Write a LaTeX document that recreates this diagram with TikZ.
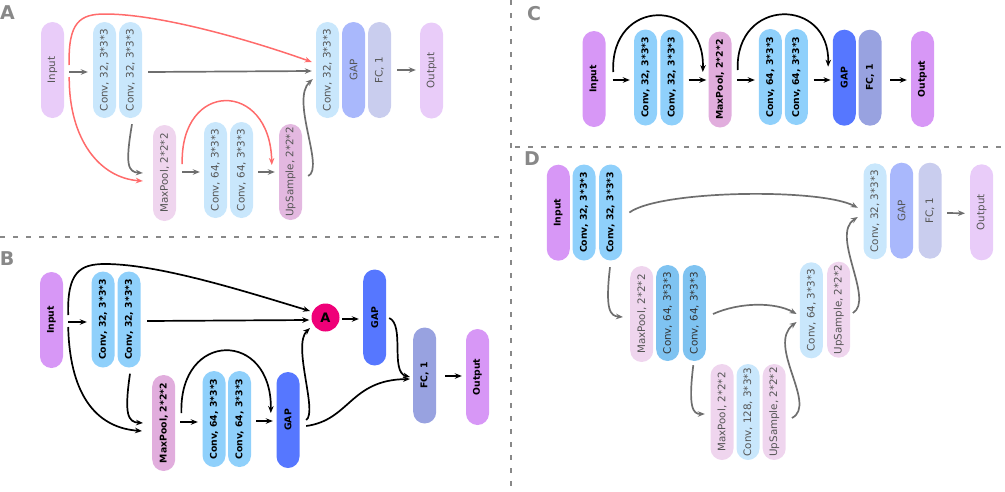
\documentclass[tikz,border=0pt]{standalone}
\usepackage{fontspec}
\setmainfont{DejaVu Sans}
\usetikzlibrary{arrows.meta,calc}
\definecolor{inV}{HTML}{D797F6}
\definecolor{inF}{HTML}{E9CCF9}
\definecolor{cvV}{HTML}{8FD0FB}
\definecolor{cvM}{HTML}{7FC3F1}
\definecolor{cvF}{HTML}{C9E7FC}
\definecolor{mpV}{HTML}{E1ADDD}
\definecolor{mpF}{HTML}{EFD5EE}
\definecolor{upAcol}{HTML}{E3B8E0}
\definecolor{gpV}{HTML}{5677FF}
\definecolor{gpF}{HTML}{A9B8FC}
\definecolor{fcV}{HTML}{98A2E0}
\definecolor{fcF}{HTML}{C9CDEE}
\definecolor{aCol}{HTML}{EF0078}
\definecolor{lnG}{HTML}{6E6E6E}
\definecolor{lnR}{HTML}{FF6B6B}
\definecolor{dv}{HTML}{888888}
\definecolor{tG}{HTML}{555555}
\definecolor{tD}{HTML}{333333}
\newcommand{\vtxt}[1]{\rotatebox{90}{#1}}
\begin{document}
\begin{tikzpicture}[x=1pt,y=-1pt,
  blk/.style={rectangle, rounded corners=11.5pt, minimum width=23pt, minimum height=96pt, inner sep=0pt},
  bt/.style={font=\fontsize{9.3}{11}\selectfont\bfseries, text=black},
  nt/.style={font=\fontsize{10.3}{12}\selectfont, text=tG},
  dt/.style={font=\fontsize{10.3}{12}\selectfont, text=tD},
  arr/.style={-{Stealth[length=7pt,width=5.5pt]}, line width=1.7pt},
  kar/.style={arr, draw=black},
  gar/.style={arr, draw=lnG},
  rar/.style={arr, draw=lnR, line width=1.5pt},
  sep/.style={draw=dv, line width=2pt, dash pattern=on 5pt off 8pt},
  lab/.style={font=\fontsize{19}{19}\selectfont\bfseries, text=dv, inner sep=0pt}
]
\useasboundingbox (0,0) rectangle (1005,491);

% separators
\draw[sep] (511,0) -- (511,491);
\draw[sep] (0,237) -- (505,237);
\draw[sep] (515,146.5) -- (1005,146.5);

% labels
\node[lab] (labA) at (7.5,13) {A};
\node[lab] (labB) at (7,258.5) {B};
\node[lab] (labC) at (534,14) {C};
\node[lab] (labD) at (532,158.5) {D};

% ---------------- Panel A ----------------
\node[blk,fill=inF,nt] (inA) at (52.5,70) {\vtxt{Input}};
\node[blk,fill=cvF,nt] (c1A) at (104.5,70) {\vtxt{Conv, 32, 3*3*3}};
\node[blk,fill=cvF,nt] (c2A) at (130.5,70) {\vtxt{Conv, 32, 3*3*3}};
\node[blk,fill=mpF,nt] (mpA) at (164.5,173) {\vtxt{MaxPool, 2*2*2}};
\node[blk,fill=cvF,nt] (c3A) at (215.5,170) {\vtxt{Conv, 64, 3*3*3}};
\node[blk,fill=cvF,nt] (c4A) at (241.5,170) {\vtxt{Conv, 64, 3*3*3}};
\node[blk,fill=upAcol,nt] (upA) at (290.5,172) {\vtxt{UpSample, 2*2*2}};
\node[blk,fill=cvF,nt] (c5A) at (327.5,70) {\vtxt{Conv, 32, 3*3*3}};
\node[blk,fill=gpF,nt] (gapA) at (353.5,70) {\vtxt{GAP}};
\node[blk,fill=fcF,nt] (fcA) at (379.5,70) {\vtxt{FC, 1}};
\node[blk,fill=inF,nt] (outA) at (431.5,70.5) {\vtxt{Output}};

\draw[gar] ($(inA.east)+(5,2)$) -- ($(c1A.west)+(-5,2)$);
\draw[gar] ($(c2A.east)+(6,2)$) -- ($(c5A.west)+(-4,1)$);
\draw[rar] ($(inA.east)+(5,-5)$) .. controls (68,22) and (80,14) .. (105,14)
   .. controls (160,14) and (250,40) .. ($(c5A.west)+(-4,-8)$);
\draw[rar] ($(inA.east)+(5,7)$) .. controls (69,140) and (100,178) .. ($(mpA.west)+(-10,8)$);
\draw[gar] ($(c2A.south)+(1.5,6)$) .. controls (125,165) and (128,172) .. ($(mpA.west)+(-10,0)$);
\draw[gar] ($(mpA.east)+(6,-1)$) -- ($(c3A.west)+(-4,2)$);
\draw[rar] ($(mpA.east)+(6,-9)$) .. controls (180,80) and (270,80) .. ($(upA.west)+(-7,-7)$);
\draw[gar] ($(c4A.east)+(5,2)$) -- ($(upA.west)+(-4,0)$);
\draw[gar] ($(upA.east)+(6,4)$) .. controls (325,168) and (290,100) .. ($(c5A.west)+(-3,9)$);
\draw[gar] ($(fcA.east)+(6,0)$) -- ($(outA.west)+(-4,-0.5)$);

% ---------------- Panel B ----------------
\node[blk,fill=inV,bt] (inB) at (51.5,320) {\vtxt{Input}};
\node[blk,fill=cvV,bt] (c1B) at (103,319.5) {\vtxt{Conv, 32, 3*3*3}};
\node[blk,fill=cvV,bt] (c2B) at (129,319.5) {\vtxt{Conv, 32, 3*3*3}};
\node[blk,fill=mpV,bt] (mpB) at (163.7,423) {\vtxt{MaxPool, 2*2*2}};
\node[blk,fill=cvV,bt] (c3B) at (214,419) {\vtxt{Conv, 64, 3*3*3}};
\node[blk,fill=cvV,bt] (c4B) at (239.5,419) {\vtxt{Conv, 64, 3*3*3}};
\node[blk,fill=gpV,bt] (gap1B) at (288,420) {\vtxt{GAP}};
\node[circle,fill=aCol,minimum size=28pt,inner sep=0pt,font=\fontsize{13}{14}\selectfont\bfseries] (aB) at (325.5,317.5) {A};
\node[blk,fill=gpV,bt] (gap2B) at (374.7,317.5) {\vtxt{GAP}};
\node[blk,fill=fcV,bt] (fcB) at (424.7,375.5) {\vtxt{FC, 1}};
\node[blk,fill=inV,bt] (outB) at (477.5,377) {\vtxt{Output}};

\draw[kar] ($(inB.east)+(5,2)$) -- ($(c1B.west)+(-4.5,2.5)$);
\draw[kar] ($(c2B.east)+(6.5,1.5)$) -- ($(aB.west)+(-2,2.5)$);
\draw[kar] ($(inB.east)+(5,-5)$) .. controls (67,272) and (80,264) .. (105,264)
   .. controls (160,264) and (250,293) .. ($(aB.center)+(-15.5,-6.5)$);
\draw[kar] ($(inB.east)+(5,7)$) .. controls (70,400) and (100,428) .. ($(mpB.west)+(-10,8)$);
\draw[kar] ($(c2B.south)+(1,6)$) .. controls (124,415) and (128,422) .. ($(mpB.west)+(-9,0)$);
\draw[kar] ($(mpB.east)+(5,-1)$) -- ($(c3B.west)+(-4.5,3)$);
\draw[kar] ($(mpB.east)+(6,-10)$) .. controls (179,330) and (272,330) .. ($(gap1B.west)+(-5.5,-7)$);
\draw[kar] ($(c4B.east)+(5,2)$) -- ($(gap1B.west)+(-3.5,1)$);
\draw[kar] ($(gap1B.east)+(6.5,0)$) .. controls (318,412) and (292,345) .. ($(aB.center)+(-15.5,10.5)$);
\draw[kar] ($(gap1B.east)+(6.5,6)$) .. controls (350,420) and (350,380) .. ($(fcB.west)+(-3,3.5)$);
\draw[kar] ($(aB.east)+(2.5,1.5)$) -- ($(gap2B.west)+(-4.2,1.5)$);
\draw[kar] ($(gap2B.east)+(2.8,0.5)$) .. controls (405,325) and (390,372) .. ($(fcB.west)+(-3,1.5)$);
\draw[kar] ($(fcB.east)+(8.8,0.5)$) -- ($(outB.west)+(-4,-1)$);

% ---------------- Panel C ----------------
\node[blk,fill=inV,bt] (inC) at (594,79) {\vtxt{Input}};
\node[blk,fill=cvV,bt] (c1C) at (645.5,77.5) {\vtxt{Conv, 32, 3*3*3}};
\node[blk,fill=cvV,bt] (c2C) at (671.8,77.5) {\vtxt{Conv, 32, 3*3*3}};
\node[blk,fill=mpV,bt] (mpC) at (720,79.5) {\vtxt{MaxPool, 2*2*2}};
\node[blk,fill=cvV,bt] (c3C) at (770.3,77) {\vtxt{Conv, 64, 3*3*3}};
\node[blk,fill=cvV,bt] (c4C) at (796.3,77) {\vtxt{Conv, 64, 3*3*3}};
\node[blk,fill=gpV,bt] (gapC) at (844.3,77.7) {\vtxt{GAP}};
\node[blk,fill=fcV,bt] (fcC) at (870,77.7) {\vtxt{FC, 1}};
\node[blk,fill=inV,bt] (outC) at (922.5,79) {\vtxt{Output}};

\draw[kar] ($(inC.east)+(7,1)$) -- ($(c1C.west)+(-4,2.5)$);
\draw[kar] ($(c2C.east)+(5,2.5)$) -- ($(mpC.west)+(-2,0.5)$);
\draw[kar] ($(mpC.east)+(5.5,0.5)$) -- ($(c3C.west)+(-3.8,3)$);
\draw[kar] ($(c4C.east)+(5.5,3)$) -- ($(gapC.west)+(-2,2.3)$);
\draw[kar] ($(fcC.east)+(8.5,2.3)$) -- ($(outC.west)+(-4,1)$);
\draw[kar] ($(inC.east)+(7.5,-7)$) .. controls (610,-3) and (705,-3) .. ($(mpC.west)+(-5.5,-7.5)$);
\draw[kar] ($(mpC.east)+(6,-9.5)$) .. controls (735,-3) and (830,-3) .. ($(gapC.west)+(-4.5,-11)$);

% ---------------- Panel D ----------------
\node[blk,fill=inV,bt] (inD) at (558.3,212.7) {\vtxt{Input}};
\node[blk,fill=cvV,bt] (c1D) at (584,212.5) {\vtxt{Conv, 32, 3*3*3}};
\node[blk,fill=cvV,bt] (c2D) at (610.7,212.5) {\vtxt{Conv, 32, 3*3*3}};
\node[blk,fill=mpF,nt] (mp1D) at (641.7,314) {\vtxt{MaxPool, 2*2*2}};
\node[blk,fill=cvM,dt] (c3D) at (667.7,313) {\vtxt{Conv, 64, 3*3*3}};
\node[blk,fill=cvM,dt] (c4D) at (694.3,313) {\vtxt{Conv, 64, 3*3*3}};
\node[blk,fill=mpF,nt] (mp2D) at (722,412) {\vtxt{MaxPool, 2*2*2}};
\node[blk,fill=cvF,nt] (c5D) at (748,412) {\vtxt{Conv, 128, 3*3*3}};
\node[blk,fill=mpF,nt] (up1D) at (774.2,412) {\vtxt{UpSample, 2*2*2}};
\node[blk,fill=cvF,nt] (c6D) at (811.3,310.3) {\vtxt{Conv, 64, 3*3*3}};
\node[blk,fill=mpF,nt] (up2D) at (838.7,309.7) {\vtxt{UpSample, 2*2*2}};
\node[blk,fill=cvF,nt] (c7D) at (875,211.3) {\vtxt{Conv, 32, 3*3*3}};
\node[blk,fill=gpF,nt] (gapD) at (901.7,210.7) {\vtxt{GAP}};
\node[blk,fill=fcF,nt] (fcD) at (930,210.7) {\vtxt{FC, 1}};
\node[blk,fill=inF,nt] (outD) at (981.7,212.3) {\vtxt{Output}};

\draw[gar] ($(c2D.east)+(7,0)$) .. controls (660,190) and (820,188) .. ($(c7D.west)+(-5.5,-3.5)$);
\draw[gar] ($(c2D.south)+(-0.7,6.5)$) .. controls (605,310) and (610,316) .. ($(mp1D.west)+(-7,3)$);
\draw[gar] ($(c4D.east)+(7,1)$) .. controls (740,302) and (775,302) .. ($(c6D.west)+(-3,3.7)$);
\draw[gar] ($(c4D.south)+(-1,4)$) .. controls (688,408) and (693,414) .. ($(mp2D.west)+(-5.5,2)$);
\draw[gar] ($(up1D.east)+(6,6)$) .. controls (818,405) and (766,345) .. ($(c6D.west)+(-3,11.7)$);
\draw[gar] ($(up2D.east)+(2.5,3.3)$) .. controls (875,300) and (830,235) .. ($(c7D.west)+(-5.5,5.7)$);
\draw[gar] ($(fcD.east)+(5.5,2.3)$) -- ($(outD.west)+(-5,1)$);
\end{tikzpicture}
\end{document}
